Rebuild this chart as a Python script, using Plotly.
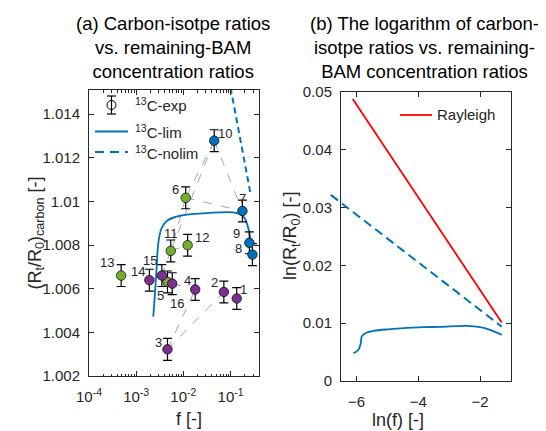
import math
import plotly.graph_objects as go

# ---- data ----
# (a) measured carbon-isotope ratios, sample ids 1..16
sample_id = list(range(1, 17))
f_exp = [0.135, 0.072, 0.0046, 0.0178, 0.0046, 0.0112, 0.178, 0.29,
         0.25, 0.045, 0.0054, 0.0123, 0.00048, 0.0019, 0.0035, 0.0058]
r_exp = [1.00555, 1.00585, 1.00322, 1.00596, 1.00631, 1.01016, 1.00956, 1.00756,
         1.0081, 1.01278, 1.00773, 1.00799, 1.0066, 1.00639, 1.0066, 1.00623]
r_err = [0.0005] * 16
group = ["p", "p", "p", "p", "g", "g", "b", "b",
         "b", "b", "g", "g", "g", "p", "p", "p"]
# grey dashed links between samples (ids)
links = [(10, 6), (10, 11), (10, 7), (6, 7), (6, 11), (11, 12), (11, 15),
         (14, 15), (16, 4), (3, 4), (3, 2)]

# (a) model curves
f_lim = [0.0023, 0.0025, 0.00272, 0.00294, 0.00347, 0.00456, 0.00847,
         0.0312, 0.114, 0.186, 0.237, 0.270]
r_lim = [1.00472, 1.00579, 1.00701, 1.00809, 1.00878, 1.00912, 1.00934,
         1.00946, 1.00949, 1.00931, 1.00878, 1.00801]
f_nolim = [0.100, 0.267]
r_nolim = [1.0152, 1.0103]

# (b) log form
lnf_lim = [-6.10, -5.94, -5.86, -5.83, -5.72, -5.45, -4.91, -3.84, -3.30,
           -2.43, -2.00, -1.68, -1.30]
lnr_lim = [0.0048, 0.00537, 0.00653, 0.00768, 0.00827, 0.00867, 0.00896,
           0.00931, 0.00936, 0.00953, 0.00931, 0.00884, 0.00797]
lnf_nolim = [-6.83, -1.30]
lnr_nolim = [0.0322, 0.0094]
lnf_ray = [-6.12, -1.30]
lnr_ray = [0.0488, 0.0101]

# label offsets in px (dx, dy up)
label_off = {1: (7, 9), 2: (-9, 9), 3: (-9, 7), 4: (-8, 9), 5: (-7, -14),
             6: (-10, 8), 7: (0, 12), 8: (-14, 6), 9: (-13, 9), 10: (11, 7),
             11: (0, 17), 12: (14, 8), 13: (-14, 13), 14: (-11, 9),
             15: (-12, 15), 16: (5, -20)}

W, H = 546, 431
OFF = 8  # page body margin
FONT = "Liberation Sans, Arial, sans-serif"
AX = "#262626"
BLUE = "#0072BD"
COLORS = {"b": BLUE, "g": "#77AC30", "p": "#7E2F8E"}


def px_x(p):
    return (p - OFF) / W


def px_y(p):
    return 1 - (p - OFF) / H


fig = go.Figure()

# ---- panel (a) ----
idx = {s: i for i, s in enumerate(sample_id)}
for a, b in links:
    i, j = idx[a], idx[b]
    fig.add_trace(go.Scatter(x=[f_exp[i], f_exp[j]], y=[r_exp[i], r_exp[j]], mode="lines",
                             line=dict(color="#A6A6A6", width=1, dash="dash"),
                             xaxis="x", yaxis="y", showlegend=False, hoverinfo="skip"))

fig.add_trace(go.Scatter(x=f_lim, y=r_lim, mode="lines", line=dict(color=BLUE, width=1.8, shape="spline"),
                         xaxis="x", yaxis="y", showlegend=False))
fig.add_trace(go.Scatter(x=f_nolim, y=r_nolim, mode="lines", line=dict(color=BLUE, width=2, dash="6px,4px"),
                         xaxis="x", yaxis="y", showlegend=False))

fig.add_trace(go.Scatter(
    x=f_exp, y=r_exp, mode="markers",
    error_y=dict(type="data", array=r_err, color="black", thickness=1.2, width=4.5),
    marker=dict(size=9.5, color=[COLORS[g] for g in group], line=dict(color="black", width=0.7)),
    xaxis="x", yaxis="y", showlegend=False))

# annotations on a log axis take log10 positions
for s, fx, ry in zip(sample_id, f_exp, r_exp):
    dx, dy = label_off[s]
    fig.add_annotation(x=math.log10(fx), y=ry, xref="x", yref="y", text=str(s), showarrow=False,
                       xshift=dx, yshift=dy, font=dict(family=FONT, size=13, color=AX))

# ---- panel (b) ----
fig.add_trace(go.Scatter(x=lnf_ray, y=lnr_ray, mode="lines", line=dict(color="#FF0000", width=1.8),
                         xaxis="x2", yaxis="y2", showlegend=False))
fig.add_trace(go.Scatter(x=lnf_lim, y=lnr_lim, mode="lines", line=dict(color=BLUE, width=1.8, shape="spline"),
                         xaxis="x2", yaxis="y2", showlegend=False))
# the no-limit line runs a little past the left axis in the original
fig.add_trace(go.Scatter(x=lnf_nolim, y=lnr_nolim, mode="lines", line=dict(color=BLUE, width=2, dash="9px,5px"),
                         xaxis="x3", yaxis="y3", showlegend=False))

axis_common = dict(showline=True, linecolor=AX, linewidth=1, mirror="ticks", ticks="inside",
                   ticklen=5, tickcolor=AX, showgrid=False, zeroline=False, automargin=False,
                   tickfont=dict(family=FONT, size=15, color=AX))

xa = [89, 259]
ya = [90, 376]
xb = [341, 511]
yb = [92, 381]
px_per_unit_b = (xb[1] - xb[0]) / 5.5

minor_a = [k * 10.0 ** e for e in range(-4, 0) for k in range(2, 10)]
fig.update_layout(
    width=W, height=H, margin=dict(l=0, r=0, t=0, b=0),
    paper_bgcolor="white", plot_bgcolor="rgba(0,0,0,0)",
    xaxis=dict(axis_common, type="log", range=[-4, -0.398], domain=[px_x(xa[0]), px_x(xa[1])],
               anchor="y", tickvals=[1e-4, 1e-3, 1e-2, 1e-1],
               ticktext=["10<sup>-4</sup>", "10<sup>-3</sup>", "10<sup>-2</sup>", "10<sup>-1</sup>"],
               minor=dict(tickvals=minor_a, ticks="inside", ticklen=2.5, tickcolor=AX, showgrid=False),
               ticklabelstandoff=7),
    yaxis=dict(axis_common, range=[1.002, 1.0151], domain=[px_y(ya[1]), px_y(ya[0])], anchor="x",
               tickvals=[1.002, 1.004, 1.006, 1.008, 1.01, 1.012, 1.014],
               ticktext=["1.002", "1.004", "1.006", "1.008", "1.01", "1.012", "1.014"],
               ticklabelstandoff=5),
    xaxis2=dict(axis_common, range=[-6.5, -1], domain=[px_x(xb[0]), px_x(xb[1])], anchor="y2",
                tickvals=[-6, -4, -2], ticklabelstandoff=7),
    yaxis2=dict(axis_common, range=[0, 0.05], domain=[px_y(yb[1]), px_y(yb[0])], anchor="x2",
                tickvals=[0, 0.01, 0.02, 0.03, 0.04, 0.05],
                ticktext=["0", "0.01", "0.02", "0.03", "0.04", "0.05"], ticklabelstandoff=5),
    xaxis3=dict(range=[-6.5 - 14 / px_per_unit_b, -1], domain=[px_x(xb[0] - 14), px_x(xb[1])],
                anchor="y3", visible=False, automargin=False),
    yaxis3=dict(range=[0, 0.05], domain=[px_y(yb[1]), px_y(yb[0])], anchor="x3", visible=False,
                automargin=False),
)

# ---- titles and axis labels ----
tfont = dict(family=FONT, size=18.5, color="black")
fig.add_annotation(x=px_x(173), y=px_y(84), xref="paper", yref="paper", xanchor="center", yanchor="bottom",
                   text="(a) Carbon-isotpe ratios<br>vs. remaining-BAM<br>concentration ratios",
                   showarrow=False, font=tfont)
fig.add_annotation(x=px_x(424), y=px_y(84), xref="paper", yref="paper", xanchor="center", yanchor="bottom",
                   text="(b) The logarithm of carbon-<br>isotpe ratios vs. remaining-<br>BAM concentration ratios",
                   showarrow=False, font=tfont)
lfont = dict(family=FONT, size=18, color=AX)
fig.add_annotation(x=px_x(174), y=px_y(419), xref="paper", yref="paper", text="f [-]",
                   showarrow=False, font=lfont, yanchor="middle")
fig.add_annotation(x=px_x(426), y=px_y(420), xref="paper", yref="paper", text="ln(f) [-]",
                   showarrow=False, font=lfont, yanchor="middle")
fig.add_annotation(x=px_x(22), y=px_y(233), xref="paper", yref="paper", textangle=-90,
                   text="(R<sub>t</sub>/R<sub>0</sub>)<sub>carbon</sub> [-]", showarrow=False, font=lfont)
fig.add_annotation(x=px_x(291), y=px_y(236), xref="paper", yref="paper", textangle=-90,
                   text="ln(R<sub>t</sub>/R<sub>0</sub>) [-]", showarrow=False, font=lfont)

# ---- legend of (a), drawn by hand ----
legfont = dict(family=FONT, size=15, color=AX)
lx0, lx1 = 95, 128
sym_x = 111.5
rows = [105, 131.5, 152]
# errorbar symbol
fig.add_shape(type="line", xref="paper", yref="paper", x0=px_x(sym_x), x1=px_x(sym_x),
              y0=px_y(rows[0] - 9), y1=px_y(rows[0] + 9), line=dict(color="black", width=1.2))
for cy in (rows[0] - 9, rows[0] + 9):
    fig.add_shape(type="line", xref="paper", yref="paper", x0=px_x(sym_x - 4.5), x1=px_x(sym_x + 4.5),
                  y0=px_y(cy), y1=px_y(cy), line=dict(color="black", width=1.2))
fig.add_shape(type="circle", xref="paper", yref="paper", x0=px_x(sym_x - 4.5), x1=px_x(sym_x + 4.5),
              y0=px_y(rows[0] + 4.5), y1=px_y(rows[0] - 4.5), line=dict(color="black", width=1))
fig.add_shape(type="line", xref="paper", yref="paper", x0=px_x(lx0), x1=px_x(lx1),
              y0=px_y(rows[1]), y1=px_y(rows[1]), line=dict(color=BLUE, width=2))
fig.add_shape(type="line", xref="paper", yref="paper", x0=px_x(lx0), x1=px_x(lx1),
              y0=px_y(rows[2]), y1=px_y(rows[2]), line=dict(color=BLUE, width=2, dash="9px,6px"))
for cy, txt in zip(rows, ["<sup>13</sup>C-exp", "<sup>13</sup>C-lim", "<sup>13</sup>C-nolim"]):
    fig.add_annotation(x=px_x(133), y=px_y(cy), xref="paper", yref="paper", xanchor="left",
                       yanchor="middle", text=txt, showarrow=False, font=legfont)

# ---- legend of (b) ----
fig.add_shape(type="line", xref="paper", yref="paper", x0=px_x(400), x1=px_x(432),
              y0=px_y(115), y1=px_y(115), line=dict(color="#FF0000", width=1.8))
fig.add_annotation(x=px_x(435), y=px_y(115), xref="paper", yref="paper", xanchor="left",
                   yanchor="middle", text="Rayleigh", showarrow=False, font=legfont)

fig.write_html("out.html")
